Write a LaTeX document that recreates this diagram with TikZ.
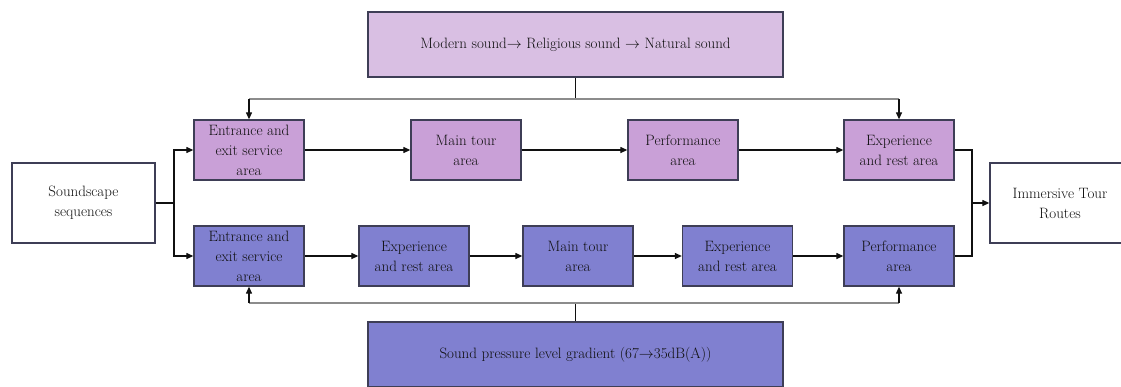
\RequirePackage{fix-cm}
\documentclass[tikz,border=0pt]{standalone}
\usetikzlibrary{arrows.meta}
\definecolor{bandtop}{HTML}{D9BFE3}
\definecolor{rowtop}{HTML}{C9A0D7}
\definecolor{rowbot}{HTML}{8080D0}
\definecolor{edge}{HTML}{3E3E56}
\definecolor{feedgrey}{HTML}{8C8C8C}
\definecolor{ink}{HTML}{101010}
\begin{document}
\begin{tikzpicture}[x=1pt,y=-1pt,
  box/.style={draw=edge,line width=1.3pt,minimum width=110pt,minimum height=60pt,
    align=center,inner sep=0pt,font=\fontsize{15}{20}\selectfont,text=ink},
  areatop/.style={box,fill=rowtop},
  areabot/.style={box,fill=rowbot},
  band/.style={box,minimum width=415pt,minimum height=65pt},
  endbox/.style={box,fill=white,minimum width=143pt,minimum height=80pt},
  link/.style={draw=ink,line width=1.2pt},
  flow/.style={link,-{Triangle[length=7pt,width=6pt]}},
  feedline/.style={draw=feedgrey,line width=1.4pt}]
\useasboundingbox (0,0) rectangle (1121,386);

% source, target and the two banner boxes
\node[band,fill=bandtop] (sound) at (575.5,44.5) {Modern sound$\rightarrow$ Religious sound $\rightarrow$ Natural sound};
\node[band,fill=rowbot] (spl) at (575.5,354.5) {Sound pressure level gradient (67$\rightarrow$35dB(A))};
\node[endbox] (seq) at (83.5,203) {Soundscape\\sequences};
\node[endbox,minimum width=140pt] (route) at (1060,203) {Immersive Tour\\Routes};

% upper route
\node[areatop] (t1) at (249,150) {Entrance and\\exit service\\area};
\node[areatop] (t2) at (466,150) {Main tour\\area};
\node[areatop] (t3) at (683,150) {Performance\\area};
\node[areatop] (t4) at (899,150) {Experience\\and rest area};

% lower route
\node[areabot] (b1) at (249,256) {Entrance and\\exit service\\area};
\node[areabot] (b2) at (414,256) {Experience\\and rest area};
\node[areabot] (b3) at (578,256) {Main tour\\area};
\node[areabot] (b4) at (737.5,256) {Experience\\and rest area};
\node[areabot] (b5) at (899,256) {Performance\\area};

% split and merge
\coordinate (split) at (174,203);
\coordinate (merge) at (972,203);
\draw[link] (seq.east) -- (split);
\draw[flow] (split) |- (t1.west);
\draw[flow] (split) |- (b1.west);
\draw[link] (t4.east) -| (merge);
\draw[link] (b5.east) -| (merge);
\draw[flow] (merge) -- (route.west);

% steps along each route
\draw[flow] (t1) -- (t2);
\draw[flow] (t2) -- (t3);
\draw[flow] (t3) -- (t4);
\draw[flow] (b1) -- (b2);
\draw[flow] (b2) -- (b3);
\draw[flow] (b3) -- (b4);
\draw[flow] (b4) -- (b5);

% banner feeds
\coordinate (tfeed) at (575.5,99);
\coordinate (bfeed) at (575.5,303);
\draw[link] (sound.south) -- (tfeed);
\draw[feedline] (t1.north |- tfeed) -- (t4.north |- tfeed);
\draw[flow] (t1.north |- tfeed) -- (t1.north);
\draw[flow] (t4.north |- tfeed) -- (t4.north);
\draw[link] (spl.north) -- (bfeed);
\draw[feedline] (b1.south |- bfeed) -- (b5.south |- bfeed);
\draw[flow] (b1.south |- bfeed) -- (b1.south);
\draw[flow] (b5.south |- bfeed) -- (b5.south);
\end{tikzpicture}
\end{document}
